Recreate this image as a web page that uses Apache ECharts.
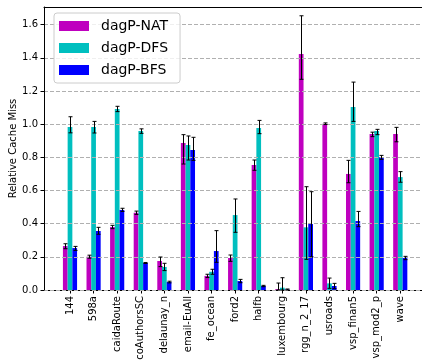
<!DOCTYPE html>
<html>
<head>
<meta charset="utf-8">
<script src="https://cdn.jsdelivr.net/npm/echarts@6/dist/echarts.min.js"></script>
<style>html,body{margin:0;padding:0;background:#fff;}#c{width:422px;height:362px;}</style>
</head>
<body>
<div id="c"></div>
<script>
const categories = ['144','598a','caidaRoute','coAuthorsSC','delaunay_n','email-EuAll','fe_ocean','ford2','halfb','luxembourg','rgg_n_2_17','usroads','vsp_finan5','vsp_mod2_p','wave'];
const seriesNames = ['dagP-NAT','dagP-DFS','dagP-BFS'];

const natValues = [0.265,0.201,0.380,0.466,0.175,0.886,0.085,0.193,0.754,0.005,1.423,1.003,0.700,0.941,0.941];
const natLow    = [0.249,0.192,0.370,0.456,0.141,0.760,0.075,0.173,0.722,0.000,1.271,0.998,0.647,0.925,0.894];
const natHigh   = [0.279,0.210,0.390,0.476,0.199,0.937,0.095,0.211,0.784,0.042,1.654,1.008,0.782,0.952,0.981];

const dfsValues = [0.983,0.983,1.092,0.959,0.139,0.875,0.110,0.452,0.977,0.014,0.378,0.040,1.104,0.959,0.681];
const dfsLow    = [0.948,0.947,1.076,0.945,0.117,0.784,0.095,0.348,0.943,0.000,0.185,0.010,1.017,0.937,0.650];
const dfsHigh   = [1.045,1.017,1.108,0.972,0.161,0.929,0.125,0.549,1.023,0.074,0.623,0.072,1.254,0.969,0.714];

const bfsValues = [0.253,0.356,0.483,0.163,0.048,0.844,0.235,0.054,0.024,0.003,0.398,0.024,0.416,0.800,0.193];
const bfsLow    = [0.239,0.336,0.474,0.160,0.043,0.782,0.167,0.044,0.020,0.000,0.200,0.008,0.382,0.788,0.183];
const bfsHigh   = [0.263,0.378,0.493,0.166,0.053,0.921,0.358,0.064,0.028,0.006,0.593,0.040,0.474,0.812,0.203];

const yTicks = [0,0.2,0.4,0.6,0.8,1.0,1.2,1.4,1.6];

const colors = ['#bf00bf','#00bfbf','#0000ff'];
const allValues = [natValues, dfsValues, bfsValues];
const allLow = [natLow, dfsLow, bfsLow];
const allHigh = [natHigh, dfsHigh, bfsHigh];
const barUnit = 0.2;
const offsets = [-barUnit, 0, barUnit];

const gridLeft = 44;
const plotW = 422 - gridLeft;
const pxPerUnit = 23.59;
const xMin = -1.102;
const xMax = xMin + plotW / pxPerUnit;

const series = [];
for (let s = 0; s < 3; s++) {
  const off = offsets[s];
  series.push({
    name: seriesNames[s],
    type: 'custom',
    itemStyle: { color: colors[s] },
    z: 2,
    data: allValues[s].map((v, i) => [i, v]),
    encode: { x: 0, y: 1 },
    renderItem: function (params, api) {
      const c = api.value(0) + off;
      const p0 = api.coord([c - barUnit / 2, 0]);
      const p1 = api.coord([c + barUnit / 2, api.value(1)]);
      return {
        type: 'rect',
        shape: { x: p0[0], y: p1[1], width: p1[0] - p0[0], height: p0[1] - p1[1] },
        style: { fill: colors[s] }
      };
    }
  });
}
for (let s = 0; s < 3; s++) {
  series.push({
    type: 'custom',
    z: 5,
    silent: true,
    data: allLow[s].map((lo, i) => [i + offsets[s], lo, allHigh[s][i]]),
    encode: { x: 0, y: [1, 2] },
    renderItem: function (params, api) {
      const x = api.value(0);
      const p1 = api.coord([x, api.value(1)]);
      const p2 = api.coord([x, api.value(2)]);
      const cx = Math.round(p1[0]) + 0.5;
      const hw = 2;
      const st = { stroke: '#000', lineWidth: 1 };
      return {
        type: 'group',
        children: [
          { type: 'line', shape: { x1: cx, y1: p1[1], x2: cx, y2: p2[1] }, style: st },
          { type: 'line', shape: { x1: cx - hw, y1: p1[1], x2: cx + hw, y2: p1[1] }, style: st },
          { type: 'line', shape: { x1: cx - hw, y1: p2[1], x2: cx + hw, y2: p2[1] }, style: st }
        ]
      };
    }
  });
}

const chart = echarts.init(document.getElementById('c'), null, { renderer: 'canvas' });
chart.setOption({
  animation: false,
  textStyle: { fontFamily: 'DejaVu Sans' },
  grid: { left: gridLeft, right: 0, top: 7, bottom: 72, show: false, containLabel: false, outerBoundsMode: 'none' },
  legend: {
    data: seriesNames,
    orient: 'vertical',
    left: 54, top: 13,
    itemWidth: 30, itemHeight: 10, itemGap: 8,
    padding: [6, 12, 6, 5],
    backgroundColor: 'rgba(255,255,255,0.8)',
    borderColor: '#cccccc', borderWidth: 1, borderRadius: 3,
    textStyle: { fontSize: 14, color: '#000', fontFamily: 'DejaVu Sans', padding: [0, 0, 0, 7] },
    icon: 'rect',
    z: 10
  },
  xAxis: [{
    type: 'value',
    position: 'bottom',
    min: xMin, max: xMax,
    splitLine: { show: false },
    axisLine: { show: true, onZero: false, lineStyle: { color: '#000', width: 1 } },
    axisTick: { show: true, length: 3.5, lineStyle: { color: '#000' }, customValues: categories.map((c, i) => i) },
    axisLabel: {
      rotate: 90, fontSize: 10, color: '#000', margin: 6,
      customValues: categories.map((c, i) => i),
      formatter: v => categories[Math.round(v)] || ''
    }
  }, {
    type: 'value',
    position: 'top',
    min: xMin, max: xMax,
    splitLine: { show: false },
    axisLine: { show: true, onZero: false, lineStyle: { color: '#000', width: 1 } },
    axisTick: { show: false },
    axisLabel: { show: false }
  }],
  yAxis: {
    type: 'value',
    min: 0, max: 1.707,
    z: 3,
    name: 'Relative Cache Miss',
    nameLocation: 'middle',
    nameGap: 26,
    nameMoveOverlap: false,
    nameTextStyle: { fontSize: 10, color: '#000' },
    axisLine: { show: true, onZero: false, lineStyle: { color: '#000', width: 1 } },
    axisTick: { show: true, length: 3.5, lineStyle: { color: '#000' }, customValues: yTicks },
    axisLabel: { fontSize: 10, color: '#000', margin: 6, customValues: yTicks, formatter: v => v.toFixed(1) },
    splitLine: { show: true, lineStyle: { color: '#b0b0b0', type: [4, 2], width: 1 } }
  },
  series: series
});
</script>
</body>
</html>
